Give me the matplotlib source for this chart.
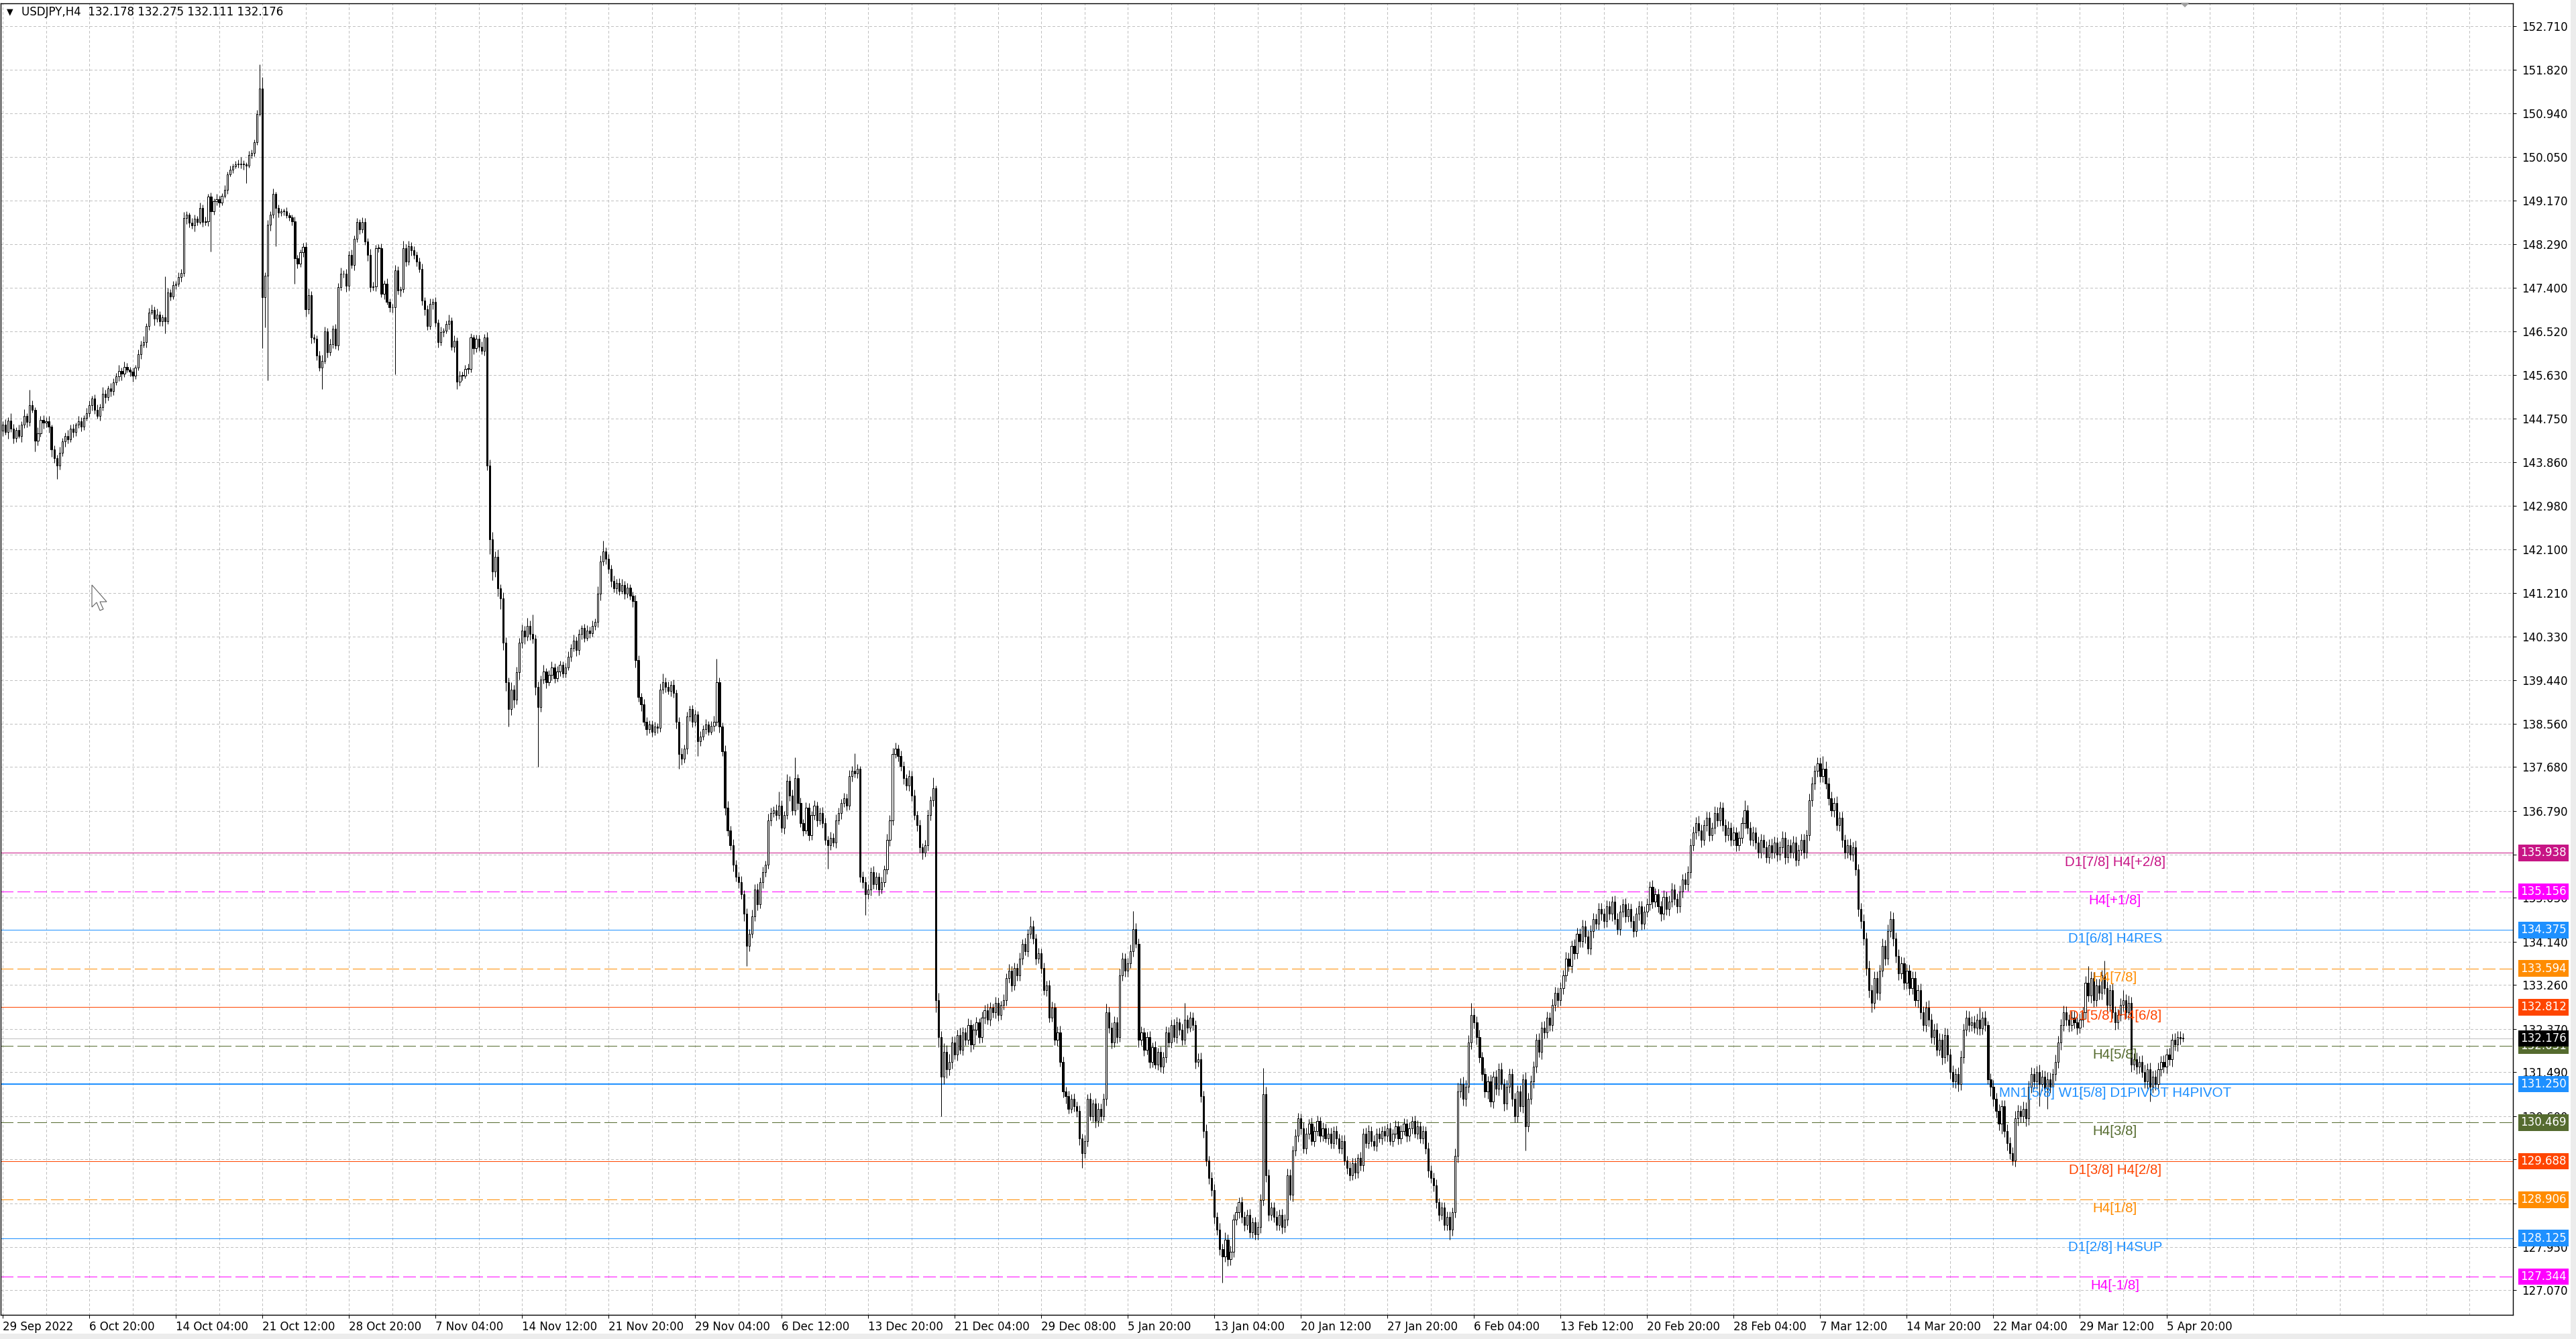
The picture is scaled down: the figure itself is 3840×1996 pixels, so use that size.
import numpy as np
import matplotlib.pyplot as plt
from matplotlib.collections import LineCollection
from matplotlib.patches import Polygon, Rectangle
from matplotlib.transforms import blended_transform_factory

plt.rcParams['font.family'] = 'DejaVu Sans'
plt.rcParams['lines.scale_dashes'] = False

# USDJPY H4, closes (16 bars per row = one grid cell)
first_open = 144.50
closes = [
    144.62, 144.48, 144.71, 144.55, 144.36, 144.52, 144.40, 144.63, 144.80, 144.68, 145.02, 144.93, 144.30, 144.45, 144.72, 144.66,
    144.70, 144.58, 144.12, 143.95, 143.80, 144.05, 144.28, 144.40, 144.32, 144.55, 144.48, 144.62, 144.70, 144.58, 144.76, 144.85,
    145.02, 145.15, 144.92, 144.80, 144.98, 145.25, 145.18, 145.36, 145.30, 145.48, 145.60, 145.72, 145.66, 145.80, 145.74, 145.70,
    145.62, 145.78, 146.05, 146.25, 146.30, 146.62, 146.90, 146.95, 146.78, 146.85, 146.72, 146.80, 146.72, 147.30, 147.22, 147.45,
    147.48, 147.62, 147.70, 148.82, 148.88, 148.72, 148.66, 148.80, 148.74, 149.02, 148.73, 148.75, 149.25, 148.95, 149.16, 149.20,
    149.13, 149.27, 149.39, 149.70, 149.80, 149.87, 149.90, 149.90, 149.92, 149.90, 149.88, 150.10, 150.13, 150.35, 150.92, 151.44,
    147.21, 147.64, 148.68, 148.89, 149.30, 149.02, 148.92, 148.95, 148.95, 148.87, 148.83, 148.75, 148.00, 147.89, 148.12, 148.23,
    146.96, 147.25, 146.39, 146.37, 146.03, 145.78, 145.92, 146.51, 146.10, 146.26, 146.57, 146.23, 147.41, 147.69, 147.68, 147.44,
    148.07, 147.87, 148.39, 148.73, 148.59, 148.73, 148.34, 148.07, 147.41, 147.43, 148.21, 148.20, 147.28, 147.48, 147.12, 147.00,
    147.00, 147.75, 147.34, 147.37, 148.21, 147.93, 148.25, 148.16, 148.07, 147.93, 147.78, 147.14, 146.96, 146.62, 147.07, 147.12,
    146.69, 146.30, 146.50, 146.53, 146.66, 146.73, 146.21, 146.33, 145.49, 145.62, 145.62, 145.76, 145.76, 146.39, 146.17, 146.37,
    146.21, 146.12, 146.39, 143.80, 142.30, 141.65, 141.95, 141.30, 141.10, 140.20, 139.40, 138.85, 139.25, 139.05, 139.60, 140.20,
    140.45, 140.32, 140.55, 140.38, 140.28, 139.30, 138.90, 139.45, 139.62, 139.40, 139.55, 139.70, 139.48, 139.62, 139.75, 139.58,
    139.70, 139.92, 140.10, 140.25, 140.05, 140.38, 140.50, 140.30, 140.45, 140.40, 140.55, 140.62, 141.20, 141.85, 142.05, 141.90,
    141.70, 141.45, 141.30, 141.42, 141.25, 141.38, 141.20, 141.32, 141.15, 141.05, 139.85, 139.10, 138.95, 138.60, 138.45, 138.55,
    138.40, 138.50, 138.48, 139.25, 139.40, 139.30, 139.22, 139.35, 139.18, 138.60, 137.95, 137.85, 138.05, 138.70, 138.85, 138.60,
    138.75, 138.20, 138.30, 138.45, 138.55, 138.40, 138.52, 138.60, 139.40, 138.50, 138.00, 136.85, 136.40, 136.10, 135.70, 135.45,
    135.35, 135.10, 134.70, 134.05, 134.30, 134.65, 135.20, 134.90, 135.35, 135.55, 135.70, 136.60, 136.75, 136.80, 136.70, 136.90,
    136.45, 136.70, 137.40, 137.10, 136.80, 137.45, 136.95, 136.55, 136.40, 136.85, 136.30, 136.70, 136.90, 136.60, 136.75, 136.55,
    136.20, 136.10, 136.25, 136.15, 136.60, 136.75, 136.95, 137.05, 136.90, 137.50, 137.60, 137.55, 137.65, 135.45, 135.35, 135.10,
    135.20, 135.55, 135.30, 135.45, 135.20, 135.35, 135.60, 136.20, 136.60, 137.95, 138.05, 137.90, 137.70, 137.45, 137.30, 137.50,
    137.10, 136.70, 136.50, 136.05, 135.95, 136.10, 136.70, 137.00, 137.25, 132.95, 132.20, 131.40, 131.90, 131.55, 131.70, 132.10,
    131.85, 132.25, 131.95, 132.30, 132.15, 132.45, 132.05, 132.35, 132.50, 132.20, 132.60, 132.75, 132.55, 132.80, 132.70, 132.90,
    132.65, 132.85, 132.95, 133.40, 133.55, 133.25, 133.60, 133.45, 133.80, 134.10, 133.95, 134.30, 134.45, 134.20, 133.80, 133.90,
    133.60, 133.15, 133.25, 132.60, 132.80, 132.15, 132.30, 131.70, 131.10, 131.00, 130.75, 130.95, 130.80, 130.70, 130.15, 129.85,
    130.10, 130.95, 130.60, 130.85, 130.50, 130.75, 130.60, 130.95, 132.70, 132.40, 132.10, 132.50, 132.20, 133.45, 133.80, 133.55,
    133.70, 133.95, 134.40, 134.10, 132.15, 132.30, 131.95, 132.20, 131.70, 132.00, 131.65, 131.90, 131.60, 131.80, 132.30, 132.10,
    132.45, 132.20, 132.50, 132.35, 132.15, 132.55, 132.40, 132.60, 132.45, 131.70, 131.75, 131.00, 130.30, 129.70, 129.35, 129.10,
    128.55, 128.30, 127.90, 127.75, 128.10, 127.70, 127.85, 128.50, 128.65, 128.85, 128.55, 128.40, 128.60, 128.25, 128.45, 128.20,
    128.35, 128.90, 131.05, 129.40, 128.60, 128.75, 128.55, 128.40, 128.60, 128.35, 128.50, 129.40, 129.00, 129.90, 130.20, 130.55,
    130.35, 129.95, 130.25, 130.45, 130.10, 130.30, 130.50, 130.20, 130.35, 130.15, 130.25, 130.05, 130.30, 130.15, 129.95, 130.10,
    129.70, 129.55, 129.40, 129.65, 129.45, 129.75, 129.60, 130.25, 130.05, 130.30, 130.10, 130.00, 130.25, 130.15, 130.30, 130.20,
    130.35, 130.10, 130.25, 130.40, 130.15, 130.30, 130.45, 130.20, 130.35, 130.50, 130.25, 130.40, 130.15, 130.30, 129.95, 129.50,
    129.35, 129.20, 128.85, 128.60, 128.75, 128.40, 128.55, 128.30, 128.65, 129.80, 131.10, 131.25, 130.95, 131.20, 132.10, 132.65,
    132.50, 132.20, 131.80, 131.45, 131.10, 131.30, 130.90, 131.40, 131.15, 131.55, 131.25, 130.85, 131.20, 131.45, 130.95, 130.60,
    131.10, 130.80, 131.35, 130.40, 130.95, 131.30, 131.60, 132.15, 131.90, 132.40, 132.30, 132.60, 132.45, 132.85, 133.10, 132.95,
    133.20, 133.45, 133.80, 133.65, 134.05, 133.90, 134.30, 134.15, 134.45, 134.25, 134.00, 134.35, 134.60, 134.50, 134.80, 134.70,
    134.55, 134.85, 134.70, 134.95, 134.60, 134.40, 134.75, 134.90, 134.65, 134.80, 134.55, 134.35, 134.70, 134.85, 134.50, 134.75,
    134.90, 135.25, 134.95, 135.10, 134.85, 134.70, 135.05, 134.80, 134.95, 135.20, 135.00, 134.85, 135.15, 135.40, 135.30, 135.55,
    136.10, 136.35, 136.55, 136.40, 136.20, 136.50, 136.65, 136.30, 136.45, 136.75, 136.60, 136.85, 136.50, 136.30, 136.45, 136.20,
    136.35, 136.10, 136.25, 136.55, 136.80, 136.45, 136.20, 136.35, 136.15, 135.95, 136.20, 136.05, 135.85, 136.10, 135.95, 136.15,
    135.90, 136.05, 136.25, 135.85, 136.10, 135.95, 136.15, 135.80, 136.00, 136.20, 135.95, 136.30, 137.00, 137.35, 137.60, 137.75,
    137.50, 137.65, 137.35, 137.05, 136.80, 136.95, 136.50, 136.65, 136.20, 135.95, 136.10, 135.90, 136.05, 135.60, 134.80, 134.55,
    134.20, 133.60, 133.15, 132.90, 133.40, 133.10, 133.55, 134.05, 133.80, 134.35, 134.60, 134.20, 133.85, 133.50, 133.70, 133.30,
    133.55, 133.20, 133.40, 132.95, 133.15, 132.70, 132.45, 132.80, 132.55, 132.20, 132.35, 131.95, 132.15, 131.80, 132.25, 131.85,
    131.50, 131.30, 131.45, 131.25, 131.80, 132.35, 132.60, 132.45, 132.50, 132.40, 132.55, 132.38, 132.60, 132.45, 131.35, 131.20,
    130.95, 130.70, 130.45, 130.80, 130.30, 130.05, 129.85, 129.70, 130.55, 130.70, 130.60, 130.75, 130.55, 131.20, 131.45, 131.30,
    131.50, 131.25, 131.40, 131.15, 131.35, 131.20, 131.45, 131.70, 132.10, 132.45, 132.70, 132.55, 132.45, 132.60, 132.50, 132.40,
    132.55, 132.70, 133.30, 133.05, 133.40, 132.95, 133.25, 133.10, 133.45, 133.20, 132.85, 133.15, 132.70, 132.50, 132.65, 132.85,
    132.95, 132.70, 132.90, 131.65, 131.75, 131.60, 131.70, 131.50, 131.30, 131.55, 131.20, 131.40, 131.25, 131.55, 131.70, 131.60,
    131.85, 131.75, 132.15, 132.05, 132.20, 132.178, 132.176,
]

# wick lengths above / below the body, in hundredths of a yen
upper_wick = [
    8, 12, 6, 15, 9, 5, 11, 7, 14, 6, 31, 9, 5, 12, 8, 10,
    7, 10, 5, 9, 6, 12, 8, 6, 11, 7, 9, 5, 10, 8, 6, 12,
    10, 6, 9, 12, 7, 14, 8, 6, 11, 9, 7, 12, 6, 10, 8, 5,
    8, 5, 10, 7, 12, 6, 9, 11, 7, 13, 8, 6, 83, 10, 7, 9,
    6, 9, 8, 12, 7, 5, 10, 8, 6, 11, 7, 9, 6, 8, 5, 10,
    7, 5, 9, 6, 8, 5, 7, 10, 13, 6, 5, 8, 7, 6, 9, 49,
    24, 8, 10, 6, 11, 5, 7, 6, 5, 8, 6, 5, 9, 7, 6, 8,
    10, 14, 8, 7, 6, 9, 12, 10, 8, 11, 7, 9, 8, 12, 7, 10,
    8, 11, 7, 9, 6, 10, 8, 7, 12, 9, 6, 8, 10, 7, 11, 6,
    7, 12, 9, 6, 14, 8, 10, 7, 9, 6, 8, 11, 7, 9, 12, 6,
    9, 7, 11, 6, 8, 12, 7, 10, 6, 9, 8, 7, 11, 9, 6, 8,
    8, 10, 7, 11, 12, 15, 10, 14, 9, 13, 11, 10, 15, 9, 12, 10,
    12, 9, 15, 10, 40, 8, 11, 9, 13, 7, 10, 12, 8, 11, 9, 7,
    9, 11, 7, 12, 8, 10, 6, 9, 11, 8, 10, 7, 15, 12, 22, 9,
    10, 8, 12, 7, 9, 11, 8, 10, 7, 9, 12, 10, 8, 11, 9, 7,
    8, 10, 7, 12, 18, 9, 11, 8, 10, 7, 9, 12, 8, 10, 7, 9,
    9, 7, 11, 8, 10, 6, 9, 12, 48, 10, 8, 12, 14, 9, 11, 10,
    10, 12, 8, 11, 9, 14, 10, 12, 9, 11, 8, 13, 10, 9, 12, 28,
    11, 9, 14, 10, 12, 43, 9, 11, 8, 12, 10, 9, 11, 8, 10, 12,
    10, 8, 11, 9, 12, 10, 8, 11, 9, 12, 10, 36, 9, 5, 12, 10,
    11, 9, 12, 10, 8, 11, 9, 13, 10, 12, 12, 9, 11, 10, 8, 12,
    10, 12, 9, 11, 8, 10, 12, 9, 22, 5, 15, 12, 18, 14, 16, 12,
    12, 10, 14, 11, 9, 13, 10, 12, 11, 9, 12, 10, 13, 11, 9, 12,
    11, 9, 12, 10, 13, 9, 11, 10, 12, 9, 11, 10, 20, 12, 10, 11,
    10, 12, 9, 11, 13, 10, 12, 14, 11, 9, 12, 10, 11, 9, 12, 10,
    12, 10, 13, 9, 11, 12, 10, 11, 18, 12, 10, 13, 11, 14, 12, 10,
    11, 13, 36, 12, 10, 12, 9, 11, 13, 10, 12, 9, 11, 10, 12, 11,
    10, 12, 11, 9, 13, 35, 10, 12, 11, 9, 12, 14, 11, 13, 10, 12,
    12, 10, 13, 11, 14, 10, 12, 11, 13, 10, 12, 11, 10, 12, 9, 11,
    11, 12, 53, 14, 12, 10, 11, 13, 10, 12, 11, 13, 12, 10, 14, 11,
    10, 12, 11, 9, 12, 10, 11, 9, 12, 10, 11, 12, 9, 11, 10, 12,
    11, 9, 12, 10, 11, 9, 12, 10, 11, 12, 9, 11, 10, 12, 9, 11,
    10, 12, 9, 11, 10, 12, 11, 9, 12, 10, 11, 12, 9, 11, 10, 12,
    11, 10, 12, 9, 11, 10, 12, 11, 10, 14, 18, 12, 15, 13, 14, 25,
    14, 12, 15, 11, 13, 12, 14, 11, 13, 12, 14, 11, 13, 12, 11, 13,
    12, 13, 11, 14, 12, 13, 11, 12, 14, 11, 13, 12, 11, 13, 12, 11,
    12, 11, 13, 12, 11, 14, 12, 11, 13, 12, 11, 13, 12, 11, 13, 12,
    11, 13, 12, 11, 13, 12, 14, 11, 12, 13, 11, 12, 13, 11, 12, 11,
    12, 11, 13, 12, 11, 12, 13, 11, 12, 13, 11, 12, 13, 11, 14, 12,
    13, 12, 11, 14, 12, 11, 13, 12, 11, 14, 12, 13, 11, 12, 13, 11,
    12, 11, 13, 12, 20, 11, 12, 13, 11, 12, 13, 11, 12, 11, 13, 12,
    11, 12, 13, 11, 12, 11, 13, 12, 11, 13, 12, 11, 14, 13, 12, 13,
    13, 25, 14, 12, 13, 11, 14, 12, 13, 11, 12, 13, 11, 14, 12, 13,
    14, 13, 15, 12, 14, 13, 12, 15, 13, 14, 16, 13, 12, 14, 13, 12,
    13, 12, 14, 13, 12, 14, 13, 12, 15, 13, 12, 14, 13, 12, 14, 13,
    12, 13, 12, 14, 13, 12, 15, 13, 12, 14, 13, 25, 12, 14, 8, 12,
    13, 12, 14, 13, 12, 14, 13, 12, 15, 13, 12, 14, 13, 12, 14, 13,
    12, 14, 13, 12, 14, 13, 12, 15, 13, 12, 14, 13, 12, 14, 13, 12,
    13, 12, 14, 35, 13, 12, 14, 13, 12, 30, 13, 12, 14, 13, 12, 14,
    20, 13, 14, 12, 13, 14, 12, 13, 14, 12, 13, 12, 14, 13, 12, 13,
    12, 13, 12, 14, 13, 12, 10,
]
lower_wick = [
    10, 6, 14, 8, 12, 9, 5, 13, 7, 11, 8, 6, 22, 9, 7, 12,
    9, 12, 15, 10, 27, 8, 6, 10, 7, 5, 11, 8, 6, 9, 7, 5,
    6, 11, 8, 5, 9, 7, 12, 6, 10, 8, 5, 9, 13, 7, 6, 10,
    12, 7, 5, 9, 6, 11, 8, 5, 14, 7, 9, 10, 24, 6, 8, 5,
    8, 5, 10, 7, 12, 9, 6, 11, 8, 5, 9, 7, 10, 81, 6, 8,
    9, 6, 5, 8, 4, 7, 5, 6, 8, 10, 36, 5, 7, 6, 5, 4,
    104, 61, 211, 12, 8, 77, 9, 6, 8, 5, 7, 9, 52, 10, 7, 9,
    15, 9, 12, 8, 10, 7, 43, 6, 11, 8, 9, 7, 10, 6, 8, 12,
    9, 7, 11, 6, 10, 8, 7, 12, 9, 6, 10, 8, 7, 11, 6, 9,
    10, 136, 8, 12, 7, 9, 6, 11, 8, 10, 7, 9, 12, 8, 6, 10,
    8, 11, 7, 9, 6, 10, 8, 12, 14, 7, 9, 6, 10, 8, 11, 7,
    9, 7, 10, 10, 30, 18, 12, 16, 22, 14, 18, 35, 12, 16, 10, 14,
    10, 14, 8, 12, 9, 16, 121, 10, 8, 12, 7, 11, 9, 6, 10, 8,
    8, 6, 10, 7, 12, 9, 11, 8, 6, 10, 7, 9, 10, 14, 8, 11,
    9, 12, 7, 10, 8, 6, 11, 9, 8, 12, 15, 10, 14, 9, 12, 8,
    10, 7, 12, 9, 8, 11, 7, 10, 9, 14, 31, 12, 8, 10, 9, 11,
    8, 30, 9, 7, 10, 8, 6, 11, 9, 12, 10, 15, 12, 10, 14, 9,
    12, 9, 14, 40, 11, 8, 10, 13, 9, 12, 10, 8, 11, 9, 10, 8,
    10, 12, 8, 11, 9, 10, 13, 9, 12, 8, 11, 10, 9, 12, 8, 10,
    9, 48, 10, 8, 11, 9, 12, 8, 10, 9, 11, 8, 10, 10, 12, 42,
    10, 12, 9, 11, 13, 8, 10, 9, 12, 10, 9, 11, 10, 12, 9, 11,
    11, 9, 12, 10, 14, 9, 11, 10, 12, 25, 20, 80, 15, 18, 12, 14,
    10, 13, 9, 12, 11, 10, 14, 9, 11, 12, 10, 13, 9, 11, 10, 12,
    12, 10, 9, 11, 10, 12, 9, 11, 10, 13, 9, 12, 10, 11, 13, 10,
    11, 9, 12, 10, 9, 11, 13, 10, 12, 14, 10, 9, 11, 12, 14, 30,
    10, 12, 9, 11, 13, 10, 12, 9, 14, 11, 13, 10, 12, 9, 11, 12,
    12, 10, 11, 9, 15, 11, 13, 10, 12, 11, 9, 12, 10, 13, 11, 10,
    11, 9, 12, 10, 11, 10, 12, 9, 11, 13, 10, 12, 14, 11, 13, 12,
    13, 11, 12, 53, 10, 14, 12, 11, 10, 12, 11, 13, 10, 12, 11, 10,
    10, 12, 11, 13, 12, 11, 10, 12, 11, 13, 10, 12, 11, 13, 10, 12,
    12, 10, 11, 12, 9, 11, 10, 12, 11, 9, 12, 10, 11, 12, 10, 11,
    10, 12, 11, 9, 12, 11, 10, 12, 9, 11, 12, 10, 11, 9, 12, 10,
    12, 9, 11, 10, 12, 11, 9, 12, 10, 11, 9, 12, 10, 11, 12, 14,
    10, 12, 11, 13, 10, 12, 11, 20, 12, 11, 14, 12, 13, 15, 12, 14,
    12, 14, 11, 13, 12, 15, 11, 14, 12, 13, 11, 14, 12, 13, 15, 12,
    13, 11, 14, 50, 12, 11, 13, 12, 11, 14, 12, 11, 13, 12, 11, 13,
    11, 13, 12, 11, 14, 12, 11, 13, 12, 14, 11, 12, 13, 11, 12, 13,
    13, 11, 12, 14, 11, 12, 13, 11, 12, 11, 13, 12, 11, 13, 12, 11,
    11, 12, 13, 11, 12, 14, 11, 12, 13, 11, 12, 13, 11, 12, 11, 13,
    12, 11, 13, 12, 14, 11, 12, 13, 11, 12, 13, 11, 12, 14, 11, 12,
    11, 13, 12, 11, 12, 13, 11, 12, 14, 11, 12, 13, 11, 12, 13, 11,
    13, 11, 12, 13, 11, 12, 11, 13, 12, 11, 13, 12, 11, 12, 13, 12,
    12, 13, 11, 14, 12, 13, 11, 12, 14, 13, 12, 11, 13, 12, 15, 14,
    13, 15, 14, 20, 12, 13, 15, 12, 14, 13, 12, 15, 13, 14, 12, 13,
    12, 14, 13, 12, 15, 13, 12, 14, 13, 12, 14, 13, 12, 15, 13, 14,
    14, 12, 13, 15, 12, 13, 12, 14, 13, 12, 14, 13, 12, 13, 10, 20,
    15, 13, 14, 20, 12, 14, 13, 9, 12, 14, 13, 12, 15, 13, 12, 14,
    14, 45, 13, 15, 40, 12, 14, 13, 12, 15, 13, 12, 14, 13, 12, 14,
    12, 14, 13, 12, 15, 13, 12, 14, 13, 12, 14, 13, 12, 15, 13, 12,
    13, 12, 14, 15, 12, 14, 13, 12, 13, 14, 30, 13, 12, 14, 13, 12,
    13, 12, 14, 12, 13, 12, 7,
]

price_ticks = [152.710, 151.820, 150.940, 150.050, 149.170, 148.290, 147.400, 146.520,
               145.630, 144.750, 143.860, 142.980, 142.100, 141.210, 140.330, 139.440,
               138.560, 137.680, 136.790, 135.910, 135.030, 134.140, 133.260, 132.370,
               131.490, 130.600, 129.720, 128.830, 127.950, 127.070]

time_labels = ["29 Sep 2022", "6 Oct 20:00", "14 Oct 04:00", "21 Oct 12:00", "28 Oct 20:00",
               "7 Nov 04:00", "14 Nov 12:00", "21 Nov 20:00", "29 Nov 04:00", "6 Dec 12:00",
               "13 Dec 20:00", "21 Dec 04:00", "29 Dec 08:00", "5 Jan 20:00", "13 Jan 04:00",
               "20 Jan 12:00", "27 Jan 20:00", "6 Feb 04:00", "13 Feb 12:00", "20 Feb 20:00",
               "28 Feb 04:00", "7 Mar 12:00", "14 Mar 20:00", "22 Mar 04:00", "29 Mar 12:00",
               "5 Apr 20:00"]
bars_per_label = 32

level_prices = [135.938, 135.156, 134.375, 133.594, 132.812, 132.031,
                131.250, 130.469, 129.688, 128.906, 128.125, 127.344]
level_names = ["D1[7/8] H4[+2/8]", "H4[+1/8]", "D1[6/8] H4RES", "H4[7/8]", "D1[5/8] H4[6/8]",
               "H4[5/8]", "MN1[5/8] W1[5/8] D1PIVOT H4PIVOT", "H4[3/8]", "D1[3/8] H4[2/8]",
               "H4[1/8]", "D1[2/8] H4SUP", "H4[-1/8]"]
level_colors = ["#C71585", "#FF00FF", "#1E90FF", "#FF8C00", "#FF4500", "#556B2F",
                "#1E90FF", "#556B2F", "#FF4500", "#FF8C00", "#1E90FF", "#FF00FF"]
level_dashed = [False, True, False, True, False, True, False, True, False, True, False, True]
level_width = [1, 1, 1, 1, 1, 1, 2, 1, 1, 1, 1, 1]

bid = 132.176
header = "USDJPY,H4  132.178 132.275 132.111 132.176"

W, H = 3840, 1996
PX = 0.72  # one pixel in points at 100 dpi
fig = plt.figure(figsize=(W / 100, H / 100), dpi=100)
fig.patch.set_facecolor('white')
ax = fig.add_axes([1 / W, 36 / H, 3745 / W, 1955 / H])
ax.set_facecolor('white')

n = len(closes)
x = np.arange(n)
c = np.array(closes)
o = np.array([first_open] + closes[:-1])
hi = np.maximum(o, c) + np.array(upper_wick) / 100
lo = np.minimum(o, c) - np.array(lower_wick) / 100

ax.set_xlim(-0.75, 928.1)
ax.set_ylim(126.57, 153.17)

# grid
grid_ls = (0, (2.2, 2.2))
for v in price_ticks:
    ax.axhline(v, color='#c0c0c0', lw=PX, ls=grid_ls, zorder=0, antialiased=False)
for b in range(0, 929, 16):
    ax.axvline(b, color='#c0c0c0', lw=PX, ls=grid_ls, zorder=0, antialiased=False)

# level lines
for p, col, dsh, lw in zip(level_prices, level_colors, level_dashed, level_width):
    ax.axhline(p, color=col, lw=PX * lw, ls=(0, (13, 4.5)) if dsh else '-',
               zorder=1.5, antialiased=False)
ax.axhline(bid, color='#c0c0c0', lw=PX, zorder=1.4, antialiased=False)

# candles
segs = [[(i, lo[i]), (i, hi[i])] for i in range(n)]
ax.add_collection(LineCollection(segs, colors='black', linewidths=PX, zorder=3))
body_h = np.maximum(np.abs(c - o), 0.012)
face = ['white' if cc >= oo else 'black' for oo, cc in zip(o, c)]
ax.bar(x, body_h, bottom=np.minimum(o, c), width=0.55, color=face,
       edgecolor='black', linewidth=PX, zorder=4)

# level labels on the chart (Arial-like font, baseline ~19 px under the line)
for p, col, name in zip(level_prices, level_colors, level_names):
    ax.annotate(name, xy=(781, p), xytext=(0, -13.7), textcoords='offset points',
                ha='center', va='baseline', color=col, fontsize=14.8,
                family=['Liberation Sans', 'DejaVu Sans'], zorder=6)

# axes, ticks
for s in ax.spines.values():
    s.set_color('black')
    s.set_linewidth(1.0)
ax.yaxis.tick_right()
ax.set_yticks(price_ticks)
ax.set_yticklabels([f"{v:.3f}" for v in price_ticks])
ax.set_xticks([k * bars_per_label for k in range(len(time_labels))])
ax.set_xticklabels(time_labels)
for lbl in ax.get_xticklabels():
    lbl.set_ha('left')
ax.tick_params(axis='y', direction='out', length=3.6, width=PX, pad=6, labelsize=12, colors='black')
ax.tick_params(axis='x', direction='out', length=3.6, width=PX, pad=3, labelsize=12, colors='black')

# price boxes on the right scale
tr = blended_transform_factory(ax.transAxes, ax.transData)
for p, col in zip(level_prices, level_colors):
    ax.text(1 + 11 / 3745, p, f"{p:.3f}", transform=tr, ha='left', va='center', color='white',
            fontsize=12, clip_on=False, zorder=10,
            bbox=dict(boxstyle='square,pad=0.2', fc=col, ec='none'))
ax.text(1 + 11 / 3745, bid, f"{bid:.3f}", transform=tr, ha='left', va='center', color='white',
        fontsize=12, clip_on=False, zorder=11,
        bbox=dict(boxstyle='square,pad=0.2', fc='black', ec='none'))

# header
fig.text(10 / W, 1 - 18 / H, "\u25bc", fontsize=9, va='center', ha='left')
fig.text(32 / W, 1 - 18 / H, header, fontsize=12, va='center', ha='left')

# chart shift marker at the top
tri = np.array([[3250, 4], [3264, 4], [3257, 11]], dtype=float)
fig.patches.append(Polygon(np.c_[tri[:, 0] / W, 1 - tri[:, 1] / H], closed=True,
                           transform=fig.transFigure, fc='#a0a0a0', ec='none', zorder=20))

# mouse pointer
cur = np.array([[0, 0], [0, 33], [7, 26], [12, 38], [17, 36], [12, 25], [22, 25]], dtype=float)
cur[:, 0] += 137
cur[:, 1] += 872
fig.patches.append(Polygon(np.c_[cur[:, 0] / W, 1 - cur[:, 1] / H], closed=True,
                           transform=fig.transFigure, fc='white', ec='#606060', lw=0.8, zorder=20))

# window frame strips
fig.patches.append(Rectangle((3832 / W, 0), 8 / W, 1, transform=fig.transFigure,
                             fc='#ececec', ec='none', zorder=0))
fig.patches.append(Rectangle((0, 0), 1, 8 / H, transform=fig.transFigure,
                             fc='#ececec', ec='none', zorder=0))

fig.savefig('out.png', dpi=100, facecolor='white')
